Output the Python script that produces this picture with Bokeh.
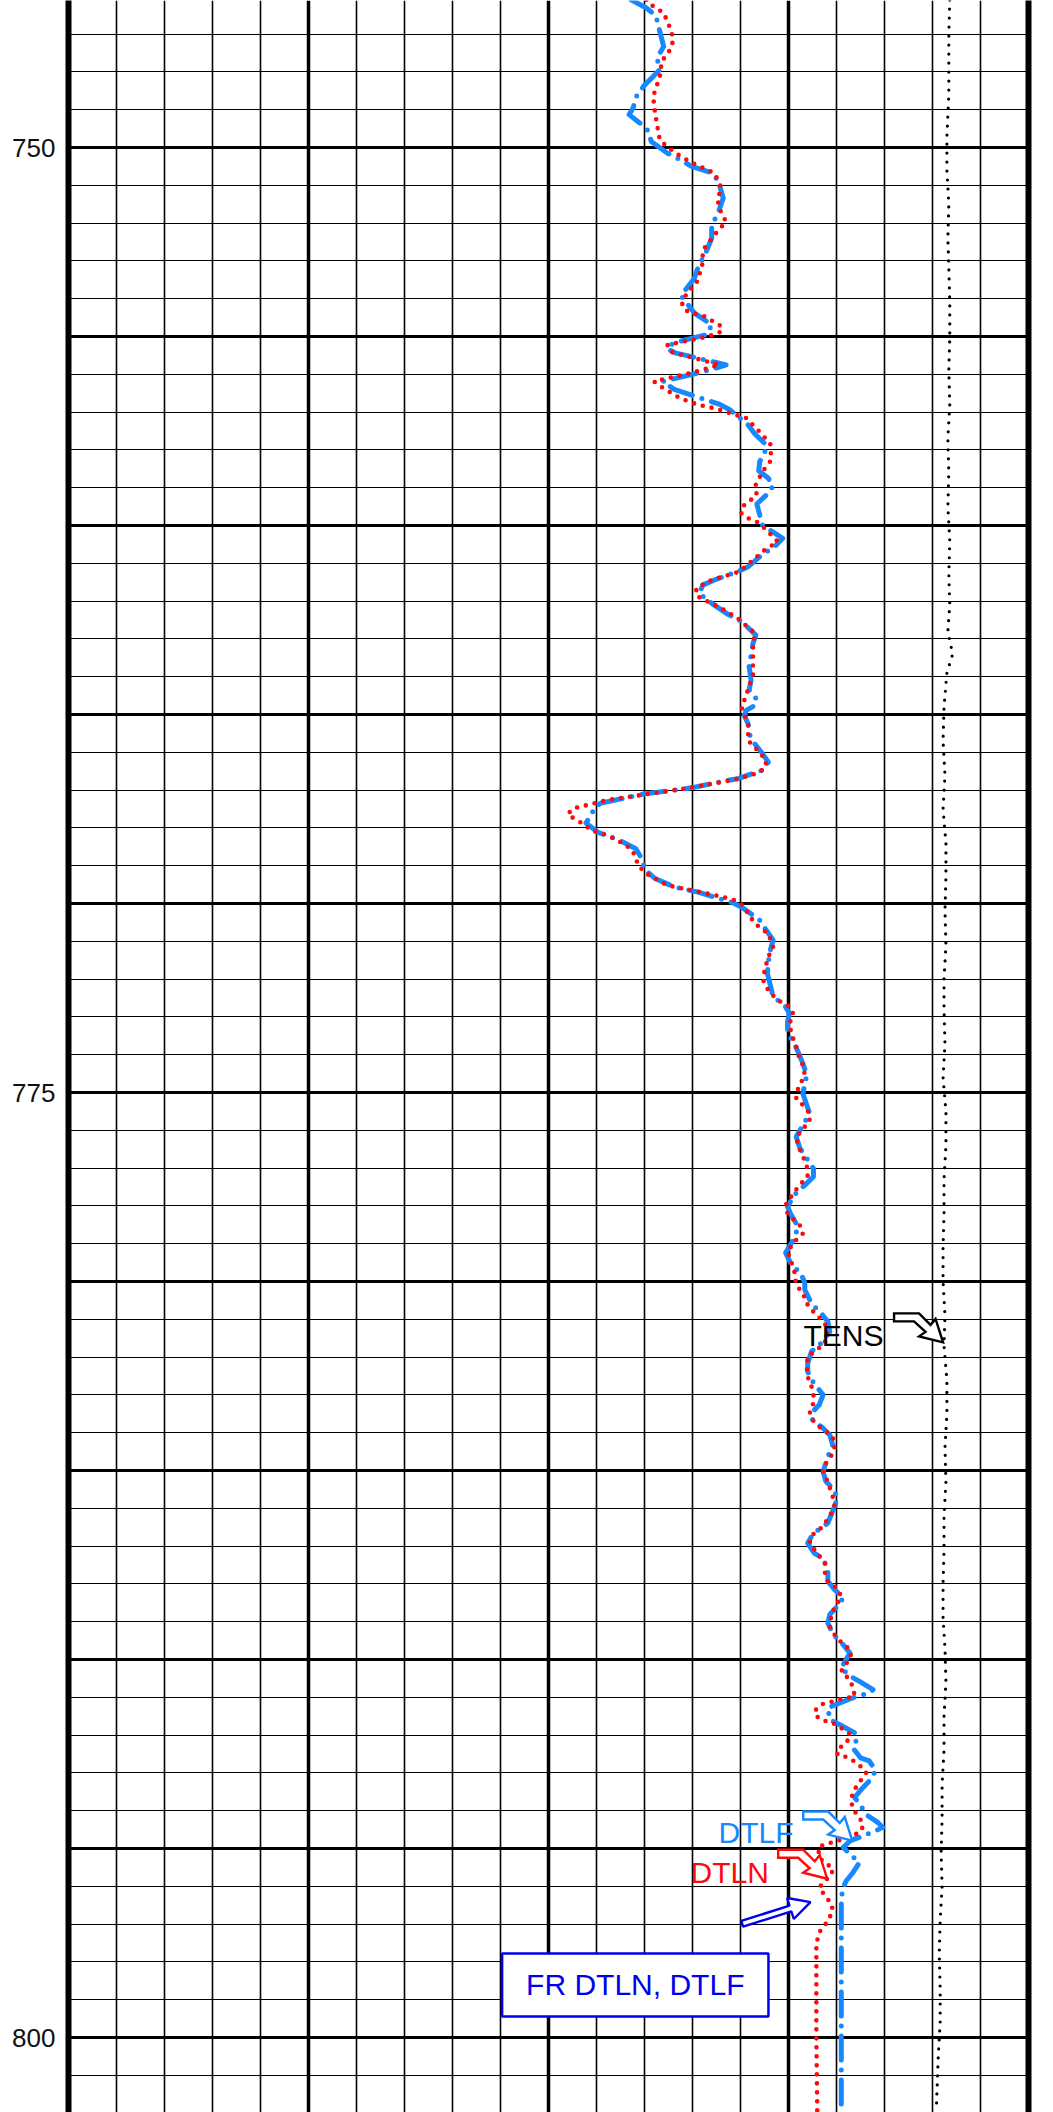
from bokeh.plotting import figure
from bokeh.models import Range1d, FixedTicker, LinearAxis, Label, ColumnDataSource
from bokeh.embed import file_html
from bokeh.resources import INLINE
import math

depth_dtlf = [746.09, 746.31, 746.52, 746.84, 747.33, 747.63, 747.94, 748.38, 748.63, 748.96,
              749.13, 749.35, 749.56, 749.84, 750.15, 750.32, 750.50, 750.68, 750.90, 751.34,
              751.78, 752.04, 752.40, 752.84, 753.15, 753.46, 753.92, 754.38, 754.69, 754.95,
              755.17, 755.33, 755.44, 755.57, 755.75, 755.90, 756.19, 756.40, 756.59, 756.78,
              756.94, 757.34, 757.58, 757.87, 758.09, 758.31, 758.55, 758.75, 758.95, 759.19,
              759.43, 759.72, 759.99, 760.21, 760.34, 760.52, 760.78, 761.09, 761.22, 761.44,
              761.57, 761.79, 762.06, 762.35, 762.54, 762.90, 763.12, 763.73, 764.09, 764.35,
              764.57, 764.76, 764.89, 765.03, 765.25, 765.51, 765.78, 766.04, 766.26, 766.48,
              766.70, 766.74, 766.94, 767.10, 767.34, 767.45, 767.63, 767.87, 768.11, 768.33,
              768.55, 768.81, 769.12, 769.34, 769.56, 769.70, 769.87, 769.96, 770.09, 770.44,
              770.71, 770.97, 771.33, 771.85, 772.16, 772.47, 772.69, 772.91, 773.13, 773.44,
              773.70, 773.93, 774.23, 774.54, 775.03, 775.33, 775.56, 775.78, 776.17, 776.48,
              776.74, 777.01, 777.23, 777.45, 777.71, 778.02, 778.20, 778.55, 778.86, 779.24,
              779.56, 779.78, 780.05, 780.22, 780.58, 780.84, 781.06, 781.33, 781.63, 781.85,
              782.16, 782.38, 782.60, 782.87, 783.00, 783.26, 783.40, 783.66, 783.88, 784.06,
              784.32, 784.63, 785.03, 785.29, 785.44, 785.70, 785.95, 786.39, 786.66, 786.92,
              787.19, 787.32, 787.63, 787.93, 788.15, 788.37, 788.59, 788.81, 789.04, 789.26,
              789.43, 789.61, 789.83, 790.22, 790.44, 790.58, 790.80, 790.89, 790.97, 791.06,
              791.28, 791.59, 791.72, 791.94, 792.07, 792.34, 792.60, 792.68, 792.94, 793.25,
              793.43, 793.65, 793.83, 794.14, 794.31, 794.44, 794.53, 794.66, 794.80, 794.97,
              795.15, 795.37, 795.64, 795.86, 796.03, 796.30, 796.61, 799.00, 801.98]
dtlf = [81.4, 79.8, 78.8, 78.5, 78.0, 78.7, 78.4, 80.1, 80.8, 81.2,
        81.6, 80.5, 79.6, 79.3, 77.6, 76.3, 75.1, 72.9, 72.3, 71.8,
        72.4, 73.0, 73.0, 73.7, 74.4, 74.8, 76.2, 74.8, 73.0, 73.5,
        77.0, 77.6, 76.7, 74.5, 71.5, 73.4, 78.1, 76.9, 74.6, 72.3,
        71.1, 69.2, 68.5, 67.3, 67.5, 68.0, 68.1, 67.1, 66.6, 67.3,
        68.3, 68.0, 67.7, 66.4, 65.6, 66.3, 67.8, 69.2, 70.3, 72.7,
        73.9, 74.3, 73.0, 71.3, 69.9, 68.4, 68.7, 69.1, 68.9, 69.1,
        68.4, 68.5, 69.4, 69.6, 69.2, 69.1, 68.5, 67.7, 67.1, 67.8,
        70.3, 71.3, 75.1, 80.0, 84.5, 85.2, 85.5, 86.1, 84.9, 82.6,
        80.9, 80.3, 79.9, 78.9, 76.9, 74.4, 72.2, 71.0, 69.9, 68.0,
        67.3, 66.6, 67.0, 67.2, 66.9, 66.6, 65.4, 64.9, 65.1, 65.1,
        64.4, 64.0, 63.5, 63.1, 63.5, 63.1, 62.8, 63.3, 64.2, 63.8,
        63.1, 62.4, 62.4, 63.3, 64.4, 65.1, 64.8, 64.0, 64.4, 65.3,
        64.7, 63.7, 63.3, 63.3, 62.6, 61.6, 60.9, 60.7, 61.6, 62.6,
        63.0, 63.0, 62.6, 61.8, 61.4, 61.8, 62.3, 62.5, 61.4, 60.7,
        60.4, 60.9, 61.4, 61.1, 60.5, 59.9, 60.2, 60.9, 62.4, 63.0,
        62.3, 61.4, 60.9, 60.9, 60.2, 59.3, 59.9, 60.7, 60.9, 60.5,
        60.0, 59.3, 58.6, 59.5, 58.6, 57.6, 56.2, 56.6, 57.8, 58.8,
        60.9, 60.7, 59.7, 58.1, 57.8, 58.3, 57.5, 56.6, 55.9, 56.7,
        57.4, 58.1, 57.6, 56.7, 55.7, 55.2, 55.9, 57.2, 58.6, 59.3,
        58.6, 57.6, 58.3, 59.0, 59.3, 59.5, 59.5, 59.5, 59.5]

depth_dtln = [746.09, 746.18, 746.44, 746.80, 747.11, 747.37, 747.72, 748.12, 748.65, 749.09,
              749.53, 749.80, 749.97, 750.10, 750.24, 750.46, 750.68, 751.07, 751.38, 751.74,
              751.96, 752.31, 752.71, 753.15, 753.59, 753.85, 754.16, 754.34, 754.47, 754.73,
              754.87, 755.00, 755.09, 755.22, 755.40, 755.57, 755.75, 755.96, 756.19, 756.28,
              756.41, 756.55, 756.66, 756.75, 756.81, 756.87, 756.94, 757.16, 757.47, 757.83,
              758.27, 758.57, 758.97, 759.19, 759.34, 759.50, 759.68, 759.81, 759.90, 760.07,
              760.43, 760.65, 760.96, 761.22, 761.44, 761.66, 761.86, 762.19, 762.45, 762.85,
              763.20, 763.65, 763.95, 764.26, 764.62, 764.81, 765.25, 765.69, 765.95, 766.22,
              766.44, 766.57, 766.70, 766.79, 766.96, 767.26, 767.41, 767.49, 767.64, 767.76,
              767.89, 768.07, 768.20, 768.33, 768.55, 768.77, 768.99, 769.21, 769.52, 769.63,
              769.74, 769.89, 770.02, 770.26, 770.53, 770.80, 771.15, 771.41, 771.77, 772.07,
              772.34, 772.56, 772.74, 772.93, 773.18, 773.44, 773.79, 774.06, 774.28, 774.54,
              774.89, 775.16, 775.38, 775.56, 775.78, 776.00, 776.22, 776.52, 776.92, 777.23,
              777.41, 777.63, 777.98, 778.20, 778.42, 778.55, 778.73, 778.95, 779.21, 779.70,
              780.09, 780.31, 780.58, 780.80, 781.11, 781.46, 781.68, 781.85, 781.99, 782.25,
              782.52, 782.78, 783.00, 783.22, 783.44, 783.66, 783.84, 784.10, 784.37, 784.59,
              784.81, 785.03, 785.30, 785.69, 785.91, 786.22, 786.52, 786.70, 786.92, 787.23,
              787.45, 787.71, 787.93, 788.11, 788.33, 788.77, 789.12, 789.43, 789.74, 789.92,
              790.31, 790.49, 790.71, 790.97, 791.06, 791.19, 791.37, 791.55, 791.63, 791.72,
              791.85, 791.99, 792.21, 792.38, 792.52, 792.59, 792.77, 792.99, 793.21, 793.43,
              793.69, 793.96, 794.18, 794.40, 794.58, 794.80, 794.89, 794.97, 795.24, 795.41,
              795.50, 795.68, 795.86, 796.03, 796.25, 796.47, 796.65, 796.92, 797.22, 797.53,
              798.06, 800.00, 801.98]
dtln = [79.8, 79.6, 78.0, 77.4, 77.0, 77.2, 78.2, 78.4, 79.1, 78.9,
        78.6, 78.4, 77.7, 77.0, 76.2, 74.6, 72.7, 72.0, 72.4, 72.0,
        71.5, 72.7, 73.9, 74.0, 74.6, 75.6, 76.1, 75.5, 73.7, 72.0,
        72.0, 73.4, 75.1, 77.6, 77.3, 74.8, 72.2, 75.1, 79.0, 78.6,
        77.7, 76.9, 76.0, 75.1, 74.3, 73.2, 72.2, 69.4, 68.2, 66.9,
        66.8, 67.7, 68.5, 68.3, 69.0, 69.8, 69.9, 69.2, 68.3, 67.5,
        66.1, 67.5, 68.9, 70.1, 73.0, 74.6, 74.6, 72.0, 70.3, 68.5,
        68.7, 68.7, 68.7, 69.1, 69.6, 69.9, 69.2, 69.2, 68.2, 67.3,
        67.5, 68.5, 70.3, 72.0, 75.8, 83.8, 86.2, 87.5, 88.0, 87.3,
        86.4, 85.5, 83.8, 82.8, 81.4, 80.9, 80.7, 79.8, 77.6, 75.5,
        73.4, 70.8, 69.9, 69.2, 68.5, 67.1, 66.6, 67.1, 67.5, 67.6,
        67.0, 66.1, 64.8, 64.5, 64.9, 64.7, 64.2, 63.9, 63.5, 63.3,
        64.0, 64.2, 63.3, 62.8, 62.8, 63.7, 64.2, 63.8, 63.1, 63.0,
        63.7, 64.4, 65.3, 65.1, 64.2, 63.7, 63.5, 64.4, 65.1, 64.4,
        64.2, 63.5, 63.1, 62.4, 61.2, 60.9, 61.4, 62.3, 63.0, 63.1,
        63.0, 62.6, 62.4, 62.4, 62.8, 62.5, 61.8, 60.4, 60.2, 60.5,
        61.1, 61.4, 60.9, 60.4, 60.2, 60.7, 61.6, 62.5, 62.8, 61.9,
        61.2, 61.2, 60.9, 60.0, 59.5, 60.5, 60.7, 60.0, 58.6, 58.5,
        59.5, 58.8, 58.3, 58.1, 59.7, 61.6, 62.3, 61.9, 61.1, 60.0,
        59.3, 58.5, 59.0, 59.9, 59.9, 58.8, 57.7, 56.9, 57.5, 58.1,
        58.5, 58.3, 57.6, 57.2, 57.6, 59.9, 61.2, 61.9, 61.8, 61.1,
        60.4, 60.5, 61.2, 61.8, 61.2, 60.5, 60.4, 60.9, 61.8, 62.1,
        62.1, 62.1, 62.0]

depth_tens = [746.1, 747.0, 747.9, 748.6, 749.7, 750.6, 751.5, 752.4, 753.2, 754.1,
              755.0, 755.9, 756.8, 757.7, 758.6, 759.5, 760.4, 761.3, 762.1, 762.8,
              763.4, 763.9, 764.8, 765.7, 766.6, 767.5, 768.4, 769.3, 770.2, 771.1,
              772.0, 772.8, 773.7, 774.6, 775.5, 776.4, 777.3, 778.2, 779.1, 780.0,
              780.9, 781.7, 782.6, 783.5, 784.4, 785.3, 786.2, 787.1, 788.0, 788.9,
              789.7, 790.6, 791.5, 792.4, 793.3, 794.2, 795.1, 796.0, 796.9, 797.8,
              798.7, 799.6, 800.5, 801.9]
tens = [9180, 9170, 9170, 9170, 9150, 9150, 9170, 9160, 9170, 9180,
        9180, 9170, 9180, 9160, 9170, 9160, 9180, 9170, 9180, 9160,
        9210, 9150, 9120, 9110, 9130, 9110, 9140, 9140, 9130, 9140,
        9120, 9120, 9130, 9110, 9140, 9140, 9120, 9120, 9110, 9110,
        9130, 9120, 9150, 9150, 9130, 9140, 9120, 9120, 9110, 9110,
        9130, 9140, 9120, 9120, 9100, 9100, 9090, 9100, 9080, 9070,
        9080, 9080, 9060, 9040]

depth_labels = [750, 775, 800]

# ---------------- layout constants ----------------
DT_LEFT, DT_RIGHT = 140, 40
DEPTH_TOP, DEPTH_BOTTOM = 746.111, 801.984
FRAME_W, FRAME_H = 960, 2112
PX_DT = FRAME_W / (DT_LEFT - DT_RIGHT)          # pixels per us/ft
PX_DEPTH = FRAME_H / (DEPTH_BOTTOM - DEPTH_TOP)  # pixels per depth unit

FONT = "Liberation Sans"
BLUE_CURVE = "#1689ff"
RED_CURVE = "#ff0a0a"
NOTE_BLUE = "#0000ee"

p = figure(width=1045, height=2112,
           x_range=Range1d(DT_LEFT, DT_RIGHT),
           y_range=Range1d(DEPTH_BOTTOM, DEPTH_TOP),
           x_axis_location=None, y_axis_location="left",
           output_backend="svg", toolbar_location=None,
           min_border_left=68, min_border_right=17,
           min_border_top=0, min_border_bottom=0)
p.outline_line_color = None
p.background_fill_color = "white"
p.extra_x_ranges = {"tens": Range1d(0, 10000)}

# grid
p.xgrid.ticker = FixedTicker(ticks=list(range(40, 141, 25)),
                             minor_ticks=[v for v in range(40, 141, 5) if v % 25 != 15])
p.xgrid.grid_line_color = "black"
p.xgrid.grid_line_width = 3.5
p.xgrid.minor_grid_line_color = "black"
p.xgrid.minor_grid_line_width = 1.6

p.ygrid.ticker = FixedTicker(ticks=list(range(745, 805, 5)),
                             minor_ticks=[v for v in range(745, 805) if v % 5 != 0])
p.ygrid.grid_line_color = "black"
p.ygrid.grid_line_width = 3
p.ygrid.minor_grid_line_color = "black"
p.ygrid.minor_grid_line_width = 1.2

# left depth axis
ya = p.yaxis[0]
ya.ticker = FixedTicker(ticks=depth_labels)
ya.axis_line_width = 6
ya.axis_line_color = "black"
ya.major_tick_line_color = None
ya.minor_tick_line_color = None
ya.major_tick_out = 0
ya.major_tick_in = 0
ya.major_label_standoff = 13
ya.major_label_text_font = FONT
ya.major_label_text_font_size = "26px"
ya.major_label_text_color = "#111111"

# right border line
ra = LinearAxis(ticker=FixedTicker(ticks=[]), axis_line_width=6, axis_line_color="black",
                major_tick_line_color=None, minor_tick_line_color=None,
                major_label_text_color=None)
p.add_layout(ra, "right")

# curves
src_f = ColumnDataSource(dict(depth=depth_dtlf, dt=dtlf))
src_n = ColumnDataSource(dict(depth=depth_dtln, dt=dtln))
src_t = ColumnDataSource(dict(depth=depth_tens, tens=tens))

p.line("tens", "depth", source=src_t, x_range_name="tens", line_color="black",
       line_width=3.2, line_dash="0 9", line_cap="round")
p.line("dt", "depth", source=src_f, line_color=BLUE_CURVE, line_width=5,
       line_dash="24 10 0 10", line_cap="round", line_join="round")
p.line("dt", "depth", source=src_n, line_color=RED_CURVE, line_width=4.6,
       line_dash="0 9", line_cap="round", line_join="round")


# annotation helpers (pixel offsets -> data units)
def offset(anchor, pts):
    ax, ay = anchor
    return [ax - dx / PX_DT for dx, dy in pts], [ay + dy / PX_DEPTH for dx, dy in pts]


BENT = [(-49, -29), (-24, -29), (-12.5, -17.5), (-7.5, -23.5), (0, 0),
        (-24, -6), (-17.5, -10.5), (-29, -21), (-49, -21)]


def bent_arrow(tip, color):
    xs, ys = offset(tip, BENT)
    p.patch(xs, ys, fill_color="white", line_color=color, line_width=2.4, line_join="miter")


bent_arrow((48.9, 781.61), "black")
bent_arrow((58.36, 794.79), BLUE_CURVE)
bent_arrow((60.97, 795.80), RED_CURVE)

# straight hollow arrow towards the curves
tdx, tdy = -68.3, 21.6
L = math.hypot(tdx, tdy)
ux, uy = -tdx / L, -tdy / L
nx, ny = -uy, ux
head_len, head_half, shaft_half = 21, 11, 3
bx, by = -ux * head_len, -uy * head_len
pts = [(tdx + nx * shaft_half, tdy + ny * shaft_half), (bx + nx * shaft_half, by + ny * shaft_half),
       (bx + nx * head_half, by + ny * head_half), (0, 0),
       (bx - nx * head_half, by - ny * head_half), (bx - nx * shaft_half, by - ny * shaft_half),
       (tdx - nx * shaft_half, tdy - ny * shaft_half)]
xs, ys = offset((62.71, 796.42), pts)
p.patch(xs, ys, fill_color="white", line_color=NOTE_BLUE, line_width=2.4)

# text labels
p.add_layout(Label(x=63.44, y=781.42, text="TENS", text_font=FONT, text_font_size="30px",
                   text_color="black", text_baseline="alphabetic", text_align="left"))
p.add_layout(Label(x=72.29, y=794.57, text="DTLF", text_font=FONT, text_font_size="30px",
                   text_color=BLUE_CURVE, text_baseline="alphabetic", text_align="left"))
p.add_layout(Label(x=75.21, y=795.63, text="DTLN", text_font=FONT, text_font_size="30px",
                   text_color=RED_CURVE, text_baseline="alphabetic", text_align="left"))
p.add_layout(Label(x=80.96, y=798.61, text="FR DTLN, DTLF", text_font=FONT,
                   text_font_size="30px", text_color=NOTE_BLUE, text_align="center",
                   text_baseline="middle", border_line_color=NOTE_BLUE, border_line_width=2.5,
                   background_fill_color="white", padding=(24, 15)))

open("out.html", "w").write(file_html(p, INLINE))
